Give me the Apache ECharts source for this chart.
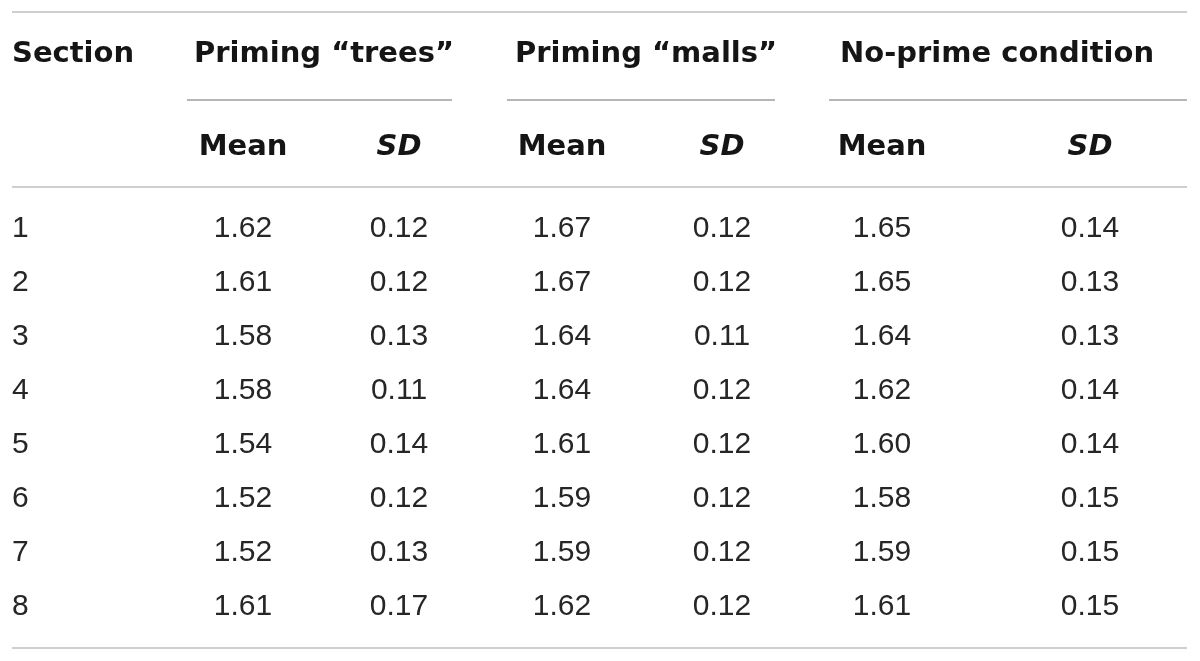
<!DOCTYPE html>
<html>
<head>
<meta charset="utf-8">
<script src="https://cdn.jsdelivr.net/npm/echarts@6/dist/echarts.min.js"></script>
<style>html,body{margin:0;padding:0;background:#fff}#c{width:1200px;height:661px}</style>
</head>
<body>
<div id="c"></div>
<script>
// ---- data ----
const sections = ['1','2','3','4','5','6','7','8'];
const groupHeaders = ['Priming \u201ctrees\u201d', 'Priming \u201cmalls\u201d', 'No-prime condition'];
const subHeaders = ['Mean', 'SD'];
const sectionHeader = 'Section';
const treesMean = [1.62,1.61,1.58,1.58,1.54,1.52,1.52,1.61];
const treesSD   = [0.12,0.12,0.13,0.11,0.14,0.12,0.13,0.17];
const mallsMean = [1.67,1.67,1.64,1.64,1.61,1.59,1.59,1.62];
const mallsSD   = [0.12,0.12,0.11,0.12,0.12,0.12,0.12,0.12];
const noneMean  = [1.65,1.65,1.64,1.62,1.60,1.58,1.59,1.61];
const noneSD    = [0.14,0.13,0.13,0.14,0.14,0.15,0.15,0.15];

// ---- layout ----
const colSection = 12;
const valueCols = [243, 399, 562, 722, 882, 1090];
const groupCenters = [324, 646, 997];
const groupSpans = [[187,452],[507,775],[829,1187]];
const yGroup = 54, ySub = 147, yRow0 = 229, rowStep = 54;
const ruleTop = 12, ruleHead = 187, ruleBottom = 648, ruleGroup = 100, ruleL = 12, ruleR = 1187;

const valueSeries = [treesMean, treesSD, mallsMean, mallsSD, noneMean, noneSD];

const headFont = {fontFamily:'DejaVu Sans', fontWeight:'bold', fontSize:29, color:'#151515'};
const bodyFont = {fontFamily:'Liberation Sans', fontWeight:'normal', fontSize:30, color:'#262626'};

function textSeries(points, font, align, italic) {
  return {
    type:'scatter', symbol:'circle', symbolSize:0.001, silent:true,
    data: points,
    itemStyle:{color:'rgba(0,0,0,0)', opacity:1},
    emphasis:{disabled:true},
    label:{
      show:true, position:'inside', align:align, verticalAlign:'middle',
      formatter: p => p.data[2], opacity:1,
      fontFamily:font.fontFamily, fontWeight:font.fontWeight, fontSize:font.fontSize,
      color:font.color, fontStyle: italic ? 'italic' : 'normal'
    }
  };
}

const series = [];
// section header + section numbers
series.push(textSeries([[colSection, yGroup, sectionHeader]], headFont, 'left', false));
series.push(textSeries(sections.map((s,i)=>[colSection, yRow0 + i*rowStep, s]), bodyFont, 'left', false));
// group headers
series.push(textSeries(groupHeaders.map((g,i)=>[groupCenters[i], yGroup, g]), headFont, 'center', false));
// sub headers
series.push(textSeries(valueCols.filter((c,i)=>i%2===0).map(c=>[c, ySub, subHeaders[0]]), headFont, 'center', false));
series.push(textSeries(valueCols.filter((c,i)=>i%2===1).map(c=>[c, ySub, subHeaders[1]]), headFont, 'center', true));
// values
valueSeries.forEach((arr, ci) => {
  series.push(textSeries(arr.map((v,i)=>[valueCols[ci], yRow0 + i*rowStep, v.toFixed(2)]), bodyFont, 'center', false));
});
// rules
const lightRule = {color:'#cfcfcf', width:2, type:'solid', opacity:1};
const groupRule = {color:'#9e9e9e', width:1.5, type:'solid', opacity:1};
const ruleData = [
  [{coord:[ruleL, ruleTop], lineStyle:lightRule},{coord:[ruleR, ruleTop]}],
  [{coord:[ruleL, ruleHead], lineStyle:lightRule},{coord:[ruleR, ruleHead]}],
  [{coord:[ruleL, ruleBottom], lineStyle:lightRule},{coord:[ruleR, ruleBottom]}]
].concat(groupSpans.map(s=>[{coord:[s[0], ruleGroup], lineStyle:groupRule},{coord:[s[1], ruleGroup]}]));
series.push({
  type:'scatter', data:[], silent:true,
  markLine:{silent:true, symbol:['none','none'], label:{show:false}, animation:false, data:ruleData}
});

const chart = echarts.init(document.getElementById('c'), null, {renderer:'canvas'});
chart.setOption({
  animation:false,
  backgroundColor:'#ffffff',
  grid:{left:0, right:0, top:0, bottom:0},
  xAxis:{type:'value', min:0, max:1200, show:false},
  yAxis:{type:'value', min:0, max:661, inverse:true, show:false},
  series: series
});
</script>
</body>
</html>
